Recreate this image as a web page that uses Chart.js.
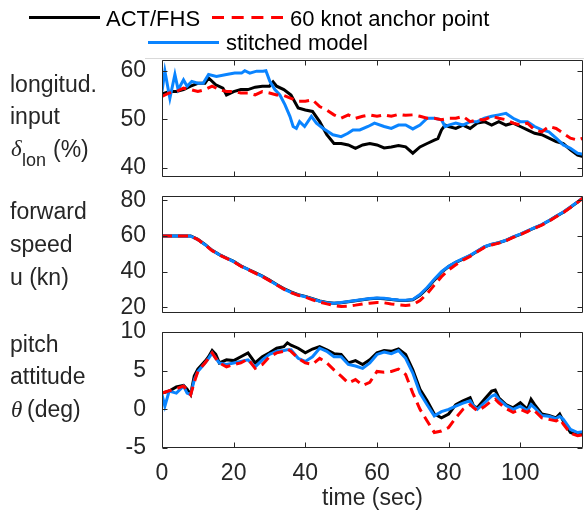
<!DOCTYPE html>
<html>
<head>
<meta charset="utf-8">
<script src="https://cdn.jsdelivr.net/npm/chart.js@4.4.1/dist/chart.umd.min.js"></script>
<style>
  body { margin: 0; background: #fff; }
  #wrap { position: relative; width: 584px; height: 513px; overflow: hidden; }
  canvas { position: absolute; left: 0; }
</style>
</head>
<body>
<div id="wrap">
  <canvas id="lonChart" width="584" height="178" style="top:0px"></canvas>
  <canvas id="spdChart" width="584" height="134" style="top:180px"></canvas>
  <canvas id="thChart" width="584" height="193" style="top:320px"></canvas>
</div>
<script>
// ---- data ----
const tGrid = [0,2,4,6,8,10,12,14,16,18,20,22,24,26,28,30,32,34,36,38,40,42,44,46,48,50,52,54,56,58,
  60,62,64,66,68,70,72,74,76,78,80,82,84,86,88,90,92,94,96,98,100,102,104,106,108,110,112,114,116,117.5];

// longitudinal input (%)
const lonActT = [0,2,4,6,8,10,12,13,15,17,18,20,22,24,26,28,30,31,32,34,36,38,40,42,44,46,48,50,52,54,56,58,
  60,62,64,66,68,70,72,74,76,77,78,79,80,82,84,86,88,90,92,94,96,98,100,102,104,106,108,110,112,114,116,117.5];
const lonAct = [55.2,55.7,55.7,56.1,56.8,57.4,57.4,58.5,57.1,56.4,55,55.7,56.1,56.1,56.6,56.8,56.8,57.7,56.8,56.1,55,52.3,51.9,51.6,49.5,46.8,45,45,44.7,44,44.7,45,
  44.7,44.1,44.3,44.6,44.3,43,44.3,45,45.7,46,47.8,48.8,48.5,48.1,48.8,48.1,49.2,49.5,48.8,49.5,48.8,49.2,48.5,47.8,47.1,46.8,46.1,45.4,45,43.7,42.6,42.3];
const lonAnc = [54.7,55.4,55.7,56.4,56.1,55.7,56.1,56.8,56.1,55.7,
  55.7,55.4,55.4,55,55.7,55.4,55,54.9,54.3,53.7,
  53.7,54,52.6,51.9,50.9,50.2,50.9,50.2,50.6,50.9,
  50.6,50.9,50.6,51,50.8,50.9,50.6,50.2,50.2,49.9,
  50.2,50.2,50.6,49.5,49.9,49.9,50.6,50.2,49.9,49.2,
  48.8,49.2,47.8,47.4,48.5,48.1,47.1,46.1,45.7,46.1];
const lonStmT = [0,0.8,2.2,3.6,4.5,6,7,8.3,10,11.5,13,15.2,18,20.3,22.2,23.1,24.5,26.4,28.2,29,
  30.1,31.5,32.9,34.3,35.7,36.6,37.5,38.4,39.8,41.7,43.1,45,47.7,50,51.9,53.3,55.2,57.5,59.3,
  62,64,66,68,70,72,74,76,78,79,80,82,84,86,88,90,92,94,96,98,100,102,104,106,108,110,112,114,116,117.5];
const lonStm = [55.7,59.9,54.3,59.2,56.1,58.1,56.8,57.8,57.4,57.4,59.2,58.8,59.2,59.5,59.5,60,59.5,59.9,59.9,60,
  57.8,56.1,55,53,50.6,48.5,48.1,49.5,48.5,50.6,49.2,48.1,46.8,46.4,47.1,47.8,47.8,48.5,49.2,
  48.5,48.1,48.8,48.8,48,48.8,50.2,50.2,49.9,48.5,48.8,49.2,48.8,49.5,49.5,50.2,50.6,50.9,51.2,50.2,49.5,49.5,48.5,47.8,47.4,46.1,44.7,44,43,42.8];

// forward speed (kn)
const spdAct = [60,60,60,60,60,58.1,55.3,52,49.6,47.7,45.8,43.3,41.4,39.5,37.6,35.3,32.9,30.6,28.7,27.2,
  26.2,24.9,23.6,22.8,22.4,22.6,23.2,23.8,24.3,24.9,25.1,24.9,24.5,24.1,23.9,24.3,26.8,30.6,35.3,39.7,
  42.9,45.2,47.1,49,51.5,53.9,55.3,56.2,57.5,59.4,60.9,62.8,64.6,66.3,68.5,71,73.3,76.1,79,81.3];
const spdStm = [60,60,60,60,59.9,58,55.2,52,49.5,47.6,45.7,43.2,41.3,39.3,37.4,35.1,32.7,30.3,28.4,27,
  26,24.8,23.5,22.7,22.4,22.8,23.3,23.9,24.4,25,25.3,25.1,24.6,24.2,24,24.5,27.2,31.2,35.8,40,
  43.1,45.4,47.3,49.2,51.6,54,55.4,56.3,57.6,59.5,61,62.9,64.7,66.4,68.6,71.1,73.4,76.2,79.1,81.4];
const spdAnc = [60,60,60,60,60,58,55,51.8,49.4,47.5,45.6,43.1,41.2,39.2,37.3,35,32.6,30.3,28.3,26.8,
  25.8,24.3,23,22,21.1,20.5,20.7,21.3,22,22.4,22.8,22.6,22,21.5,21.1,21.5,23.9,27.7,32.5,37.2,
  41,43.9,46.5,48.6,51.2,53.6,55,56,57.3,59.2,60.7,62.6,64.4,66.1,68.3,70.8,73.1,76,78.9,81.3];

// pitch attitude (deg)
const thT = [0,2,4,6,7,8,9,10,12,13,14,15,16,18,20,22,24,26,28,30,32,34,35,36,38,40,42,44,46,48,
  50,52,54,56,58,60,62,64,66,68,70,72,74,76,78,80,82,84,86,87,88,90,92,93,94,96,98,100,102,103,
  104,106,108,110,111,112,114,116,117.5];
const thAct = [2.1,2.35,2.9,3.1,2.6,1.9,4.3,5.2,6.2,6.8,7.6,7.1,6.0,6.4,6.3,6.8,7.3,6.0,6.8,7.3,
  7.9,8.1,8.6,8.3,7.9,7.3,7.8,8.1,7.7,7.2,7.1,6.0,6.3,5.8,6.4,7.3,7.6,7.5,7.8,7.1,
  5.1,2.6,1.1,-0.6,-1.1,-0.6,0.6,1.1,1.5,0.4,0.2,1.3,2.35,2.5,1.5,0.6,0.2,0.85,0,1.3,
  0.6,-0.6,-0.8,-1.1,-0.6,-1.5,-3.0,-3.3,-3.2];
const thAnc = [2.1,2.4,2.65,3.0,2.5,1.9,3.5,4.9,6.0,6.6,7.3,6.6,6.0,5.5,5.8,6.0,6.5,5.3,5.8,6.8,
  7.3,7.5,7.8,7.5,6.6,6.0,5.8,6.6,6.0,5.1,4.3,3.4,3.85,3.1,3.5,4.9,4.8,4.9,5.2,4.5,
  2.1,0,-1.5,-3.0,-2.8,-2.35,-1.1,0,0.6,0.2,-0.2,0.35,1.1,1.3,0.85,0.1,-0.4,0,-0.4,0,
  -0.2,-1.1,-1.3,-1.5,-1.2,-1.9,-3.1,-3.4,-3.3];
const thStmT = [0,0.8,2,4,6,7,8,9,10,12,13,14,15,16,18,20,22,24,26,28,30,32,34,35,36,38,40,42,44,46,48,
  50,52,54,56,58,60,62,64,66,68,70,72,74,76,78,80,82,84,86,87,88,90,92,93,94,96,98,100,102,103,
  104,106,108,110,111,112,114,116,117.5];
const thStm = [1.9,0.4,2.35,2.1,3.0,2.1,1.9,3.8,4.9,6.0,6.6,7.3,6.6,6.0,5.8,6.0,6.2,6.4,5.5,6.4,7.1,
  7.5,7.6,7.7,7.7,6.6,6.2,6.8,7.9,7.5,6.8,6.8,5.8,5.6,5.3,6.0,7.1,7.4,7.2,7.6,6.6,
  4.7,2.1,0.6,-0.85,-0.3,0,0.4,0.8,1.1,0.4,0,0.85,1.7,1.9,1.3,0.5,0,0.4,-0.2,0.6,
  0.2,-0.8,-0.9,-1.2,-0.9,-1.3,-2.6,-3.0,-2.9];

// ticks
const xTicks = [0,20,40,60,80,100];
const lonTicks = [40,50,60];
const spdTicks = [20,40,60,80];
const thTicks = [-5,0,5,10];

const seriesNames = ['ACT/FHS', '60 knot anchor point', 'stitched model'];

// ---- styling ----
const axisColor = '#262626';
const fontFam = '"Liberation Sans", Arial, sans-serif';
const labelFont = '23px ' + fontFam;
const colAct = '#000000';
const colAnc = '#ff0000';
const colStm = '#0a84ff';

function pts(t, v) {
    return t.map((x, i) => ({ x: x, y: v[i] }));
}

function line(label, data, color, dash) {
    return {
        label: label,
        data: data,
        borderColor: color,
        backgroundColor: color,
        borderWidth: 3,
        borderDash: dash || [],
        pointRadius: 0,
        tension: 0,
        fill: false,
        clip: 0
    };
}

// box with inward ticks on all four sides + left side labels
function boxPlugin(labels) {
    return {
        id: 'box',
        afterDraw(chart) {
            const c = chart.ctx, a = chart.chartArea;
            const xs = chart.scales.x, ys = chart.scales.y;
            const L = Math.round(a.left) + 0.5, R = Math.round(a.right) - 0.5;
            const T = Math.round(a.top) + 0.5, B = Math.round(a.bottom) - 0.5;
            c.save();
            c.strokeStyle = axisColor;
            c.lineWidth = 1;
            c.beginPath();
            c.rect(L, T, R - L, B - T);
            xs.ticks.forEach(t => {
                const px = Math.round(xs.getPixelForValue(t.value)) + 0.5;
                c.moveTo(px, B); c.lineTo(px, B - 5);
                c.moveTo(px, T); c.lineTo(px, T + 5);
            });
            ys.ticks.forEach(t => {
                const py = Math.round(ys.getPixelForValue(t.value)) + 0.5;
                c.moveTo(L, py); c.lineTo(L + 5, py);
                c.moveTo(R, py); c.lineTo(R - 5, py);
            });
            c.stroke();
            c.fillStyle = axisColor;
            c.textAlign = 'left';
            c.textBaseline = 'alphabetic';
            labels.forEach(l => {
                c.font = l.font || labelFont;
                c.fillText(l.text, l.x, l.y);
            });
            c.restore();
        }
    };
}

// legend drawn at the top of the first panel
const legendPlugin = {
    id: 'legendTop',
    afterDraw(chart) {
        const c = chart.ctx;
        c.save();
        c.font = '22px ' + fontFam;
        c.fillStyle = '#000';
        c.textBaseline = 'alphabetic';
        c.lineWidth = 3;

        c.strokeStyle = colAct;
        c.setLineDash([]);
        c.beginPath(); c.moveTo(29, 17.5); c.lineTo(100, 17.5); c.stroke();
        c.fillText(seriesNames[0], 106, 26);

        c.strokeStyle = colAnc;
        c.setLineDash([12, 7.7]);
        c.beginPath(); c.moveTo(212, 17.5); c.lineTo(283, 17.5); c.stroke();
        c.fillText(seriesNames[1], 290, 26);

        c.strokeStyle = colStm;
        c.setLineDash([]);
        c.beginPath(); c.moveTo(148, 42.5); c.lineTo(219, 42.5); c.stroke();
        c.fillText(seriesNames[2], 226, 50);

        // faint legend box edge
        c.strokeStyle = '#d9d9d9';
        c.lineWidth = 1;
        c.beginPath(); c.moveTo(145, 58.5); c.lineTo(584, 58.5); c.stroke();
        c.restore();
    }
};

function makePanel(id, datasets, yMin, yMax, yTicks, pad, showX, labels, extra) {
    const ctx = document.getElementById(id).getContext('2d');
    return new Chart(ctx, {
        type: 'line',
        data: { datasets: datasets },
        options: {
            responsive: false,
            animation: false,
            events: [],
            layout: { padding: pad },
            plugins: { legend: { display: false }, tooltip: { enabled: false } },
            scales: {
                x: {
                    type: 'linear',
                    min: 0,
                    max: 117.5,
                    grid: { display: false },
                    border: { display: false },
                    afterBuildTicks: s => { s.ticks = xTicks.map(v => ({ value: v })); },
                    afterFit: s => {
                        s.height = showX ? 65 : 0;
                        s.paddingLeft = 0; s.paddingRight = 0;
                    },
                    ticks: {
                        display: showX,
                        autoSkip: false,
                        maxRotation: 0,
                        padding: 4,
                        color: axisColor,
                        font: { family: fontFam, size: 23 }
                    },
                    title: {
                        display: showX,
                        text: 'time (sec)',
                        color: axisColor,
                        padding: 1,
                        font: { family: fontFam, size: 23 }
                    }
                },
                y: {
                    min: yMin,
                    max: yMax,
                    grid: { display: false },
                    border: { display: false },
                    afterBuildTicks: s => { s.ticks = yTicks.map(v => ({ value: v })); },
                    afterFit: s => {
                        s.width = 162;
                        s.paddingTop = 0; s.paddingBottom = 0;
                    },
                    ticks: {
                        padding: 8,
                        color: axisColor,
                        font: { family: fontFam, size: 23 }
                    }
                }
            }
        },
        plugins: [boxPlugin(labels)].concat(extra || [])
    });
}

const serif = 'italic 23px "Liberation Serif", "DejaVu Serif", serif';

makePanel('lonChart', [
    line(seriesNames[1], pts(tGrid, lonAnc), colAnc, [10, 6]),
    line(seriesNames[2], pts(lonStmT, lonStm), colStm),
    line(seriesNames[0], pts(lonActT, lonAct), colAct)
], 38.1, 62.2, lonTicks, { top: 60, right: 1, bottom: 1, left: 0 }, false, [
    { text: 'longitud.', x: 10, y: 92 },
    { text: 'input', x: 10, y: 124 },
    { text: 'δ', x: 11, y: 156, font: serif },
    { text: 'lon', x: 22, y: 166, font: '18px ' + fontFam },
    { text: '(%)', x: 53, y: 157 }
], [legendPlugin]);

makePanel('spdChart', [
    line(seriesNames[1], pts(tGrid, spdAnc), colAnc, [10, 6]),
    line(seriesNames[2], pts(tGrid, spdStm), colStm),
    line(seriesNames[0], pts(tGrid, spdAct), colAct)
], 16.9, 82.4, spdTicks, { top: 16, right: 1, bottom: 1, left: 0 }, false, [
    { text: 'forward', x: 10, y: 39 },
    { text: 'speed', x: 10, y: 72 },
    { text: 'u (kn)', x: 10, y: 105 }
]);

makePanel('thChart', [
    line(seriesNames[1], pts(thT, thAnc), colAnc, [10, 6]),
    line(seriesNames[2], pts(thStmT, thStm), colStm),
    line(seriesNames[0], pts(thT, thAct), colAct)
], -5, 10, thTicks, { top: 12, right: 1, bottom: 0, left: 0 }, true, [
    { text: 'pitch', x: 10, y: 32 },
    { text: 'attitude', x: 10, y: 64 },
    { text: 'θ', x: 11, y: 97, font: serif },
    { text: '(deg)', x: 27, y: 97 }
]);
</script>
</body>
</html>
